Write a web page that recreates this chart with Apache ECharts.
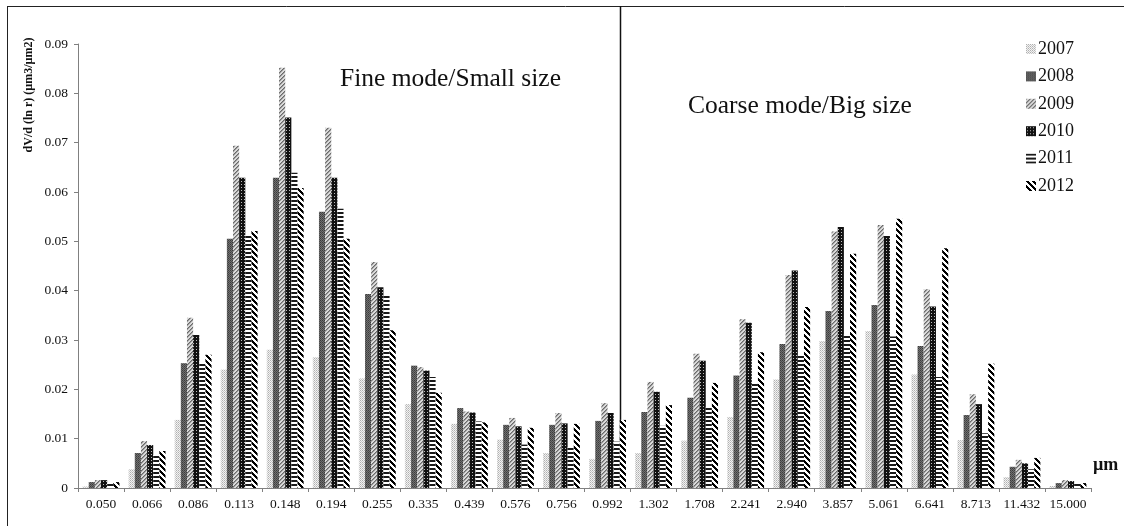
<!DOCTYPE html>
<html><head><meta charset="utf-8">
<script src="https://cdn.jsdelivr.net/npm/echarts@6/dist/echarts.min.js"></script>
<style>html,body{margin:0;padding:0;background:#fff}#c{width:1124px;height:527px}</style>
</head><body><div id="c"></div>
<script>
const categories = ['0.050','0.066','0.086','0.113','0.148','0.194','0.255','0.335','0.439','0.576','0.756','0.992','1.302','1.708','2.241','2.940','3.857','5.061','6.641','8.713','11.432','15.000'];
const yTicks = [0,0.01,0.02,0.03,0.04,0.05,0.06,0.07,0.08,0.09];
const years = ['2007','2008','2009','2010','2011','2012'];
const v2007 = [0.0003,0.0038,0.0138,0.0240,0.0280,0.0265,0.0222,0.0170,0.0130,0.0098,0.0071,0.0059,0.0071,0.0096,0.0144,0.0220,0.0298,0.0318,0.0230,0.0097,0.0022,0.0004];
const v2008 = [0.0012,0.0071,0.0253,0.0505,0.0629,0.0560,0.0393,0.0248,0.0162,0.0128,0.0128,0.0136,0.0154,0.0183,0.0228,0.0292,0.0359,0.0371,0.0288,0.0148,0.0043,0.0010];
const v2009 = [0.0016,0.0095,0.0345,0.0694,0.0852,0.0730,0.0458,0.0245,0.0155,0.0142,0.0152,0.0172,0.0215,0.0272,0.0342,0.0432,0.0520,0.0533,0.0403,0.0190,0.0057,0.0016];
const v2010 = [0.0016,0.0087,0.0310,0.0629,0.0751,0.0629,0.0407,0.0238,0.0153,0.0125,0.0131,0.0152,0.0195,0.0258,0.0335,0.0441,0.0529,0.0511,0.0368,0.0170,0.0050,0.0014];
const v2011 = [0.0011,0.0067,0.0255,0.0513,0.0639,0.0566,0.0390,0.0225,0.0135,0.0088,0.0083,0.0094,0.0126,0.0164,0.0211,0.0270,0.0312,0.0307,0.0225,0.0111,0.0038,0.0009];
const v2012 = [0.0012,0.0075,0.0270,0.0521,0.0608,0.0505,0.0320,0.0193,0.0133,0.0122,0.0130,0.0138,0.0168,0.0213,0.0275,0.0367,0.0475,0.0546,0.0486,0.0252,0.0061,0.0010];
const values = [v2007,v2008,v2009,v2010,v2011,v2012];

function pat(w,h,draw){const c=document.createElement('canvas');c.width=w;c.height=h;const g=c.getContext('2d');draw(g,w,h);return {image:c,repeat:'repeat'};}
function px(g,x,y,col){g.fillStyle=col;g.fillRect(x,y,1,1);}
const patterns = [
  pat(2,2,(g)=>{g.fillStyle='#f2f2f2';g.fillRect(0,0,2,2);px(g,0,0,'#b0b0b0');px(g,1,1,'#c8c8c8');}),
  pat(2,2,(g)=>{g.fillStyle='#707070';g.fillRect(0,0,2,2);px(g,0,0,'#3c3c3c');px(g,1,1,'#4c4c4c');}),
  pat(4,4,(g)=>{g.fillStyle='#dadada';g.fillRect(0,0,4,4);for(let i=0;i<4;i++){px(g,i,3-i,'#6a6a6a');px(g,(i+1)%4,3-i,'#9a9a9a');}}),
  pat(3,3,(g)=>{g.fillStyle='#111';g.fillRect(0,0,3,3);px(g,1,1,'#bdbdbd');}),
  pat(1,4,(g)=>{g.fillStyle='#fff';g.fillRect(0,0,1,4);g.fillStyle='#1a1a1a';g.fillRect(0,0,1,2);}),
  pat(6,6,(g)=>{g.fillStyle='#fff';g.fillRect(0,0,6,6);for(let x=0;x<6;x++)for(let y=0;y<6;y++){const d=((x-y)%6+6)%6;if(d<3)px(g,x,y,'#000');}})
];

const serif = 'Liberation Serif';
const chart = echarts.init(document.getElementById('c'));
chart.setOption({
  animation:false,
  backgroundColor:'#fff',
  grid:{left:78,right:33,top:44,bottom:39,containLabel:false},
  legend:{
    orient:'vertical', left:1021, top:35, itemWidth:10, itemHeight:10, itemGap:9.4,
    icon:'rect', data:years,
    textStyle:{fontFamily:serif,fontSize:18,color:'#111',padding:[0,0,0,-3]}
  },
  xAxis:{
    type:'category', data:categories,
    axisLine:{lineStyle:{color:'#808080',width:1}},
    axisTick:{show:true,length:4,alignWithLabel:false,lineStyle:{color:'#808080'}},
    axisLabel:{fontFamily:serif,fontSize:13.5,color:'#111',margin:9,interval:0}
  },
  yAxis:{
    type:'value', min:yTicks[0], max:yTicks[yTicks.length-1], interval:0.01,
    splitLine:{show:false},
    axisLine:{show:true,lineStyle:{color:'#808080',width:1}},
    axisTick:{show:true,length:4,lineStyle:{color:'#808080'}},
    axisLabel:{fontFamily:serif,fontSize:13.5,color:'#111',margin:10,formatter:(v)=>{const t=yTicks.find(k=>Math.abs(k-v)<1e-9);return t===0?'0':(t!==undefined?t.toFixed(2):'');}}
  },
  series: years.map((y,i)=>({
    name:y, type:'bar', data:values[i], barGap:'0%', barCategoryGap:'20%',
    itemStyle:{color:patterns[i]}
  })),
  graphic:[
    {type:'line',shape:{x1:7.5,y1:6,x2:7.5,y2:526},style:{stroke:'#222',lineWidth:1}},
    {type:'line',shape:{x1:7,y1:6.5,x2:1124,y2:6.5},style:{stroke:'#222',lineWidth:1}},
    {type:'line',shape:{x1:620.5,y1:6,x2:620.5,y2:488},style:{stroke:'#111',lineWidth:1.5}},
    {type:'text',x:340,y:79,style:{text:'Fine mode/Small size',font:'25.5px "Liberation Serif"',fill:'#111',textVerticalAlign:'middle'}},
    {type:'text',x:688,y:106,style:{text:'Coarse mode/Big size',font:'25.5px "Liberation Serif"',fill:'#111',textVerticalAlign:'middle'}},
    {type:'text',x:1093,y:465,style:{text:'µm',font:'bold 18px "Liberation Serif"',fill:'#111',textVerticalAlign:'middle'}},
    {type:'text',x:29,y:95,rotation:Math.PI/2,style:{text:'dV/d (ln r) (µm3/µm2)',font:'bold 12px "Liberation Serif"',fill:'#111',textAlign:'center',textVerticalAlign:'middle'}}
  ]
});
</script></body></html>
